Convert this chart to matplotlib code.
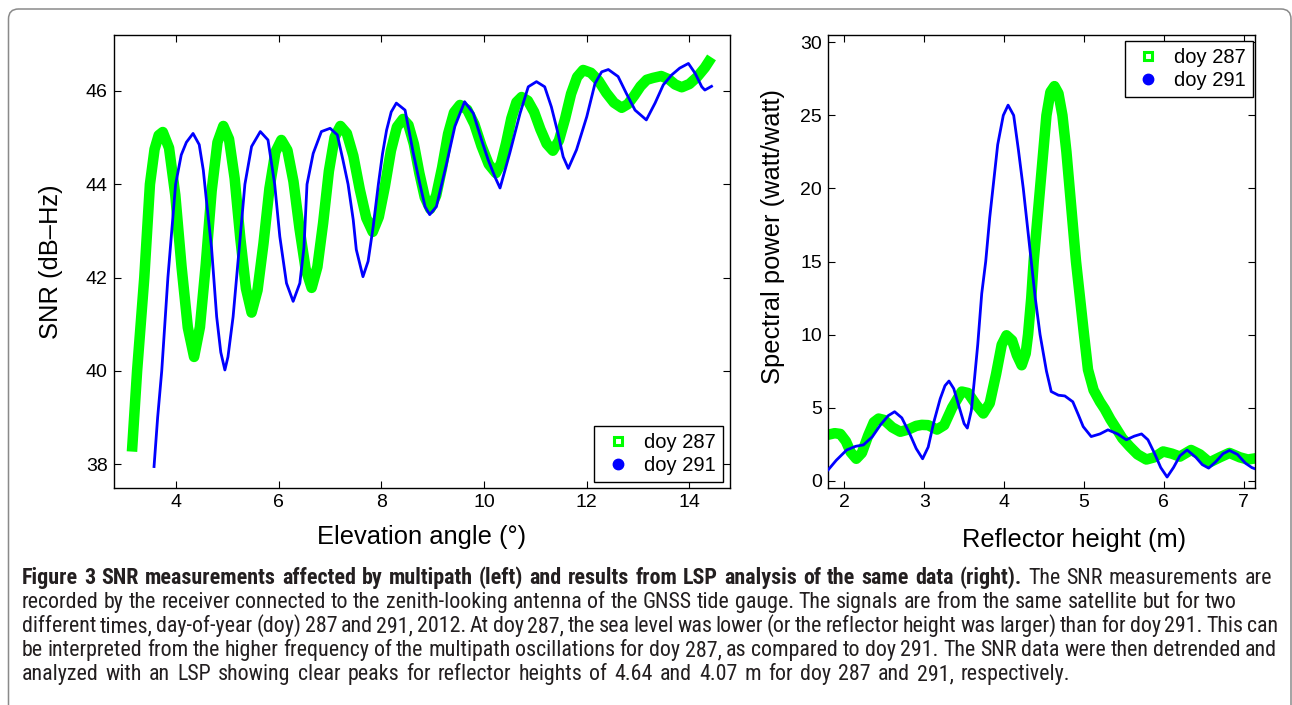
import matplotlib
matplotlib.use('Agg')
import matplotlib.pyplot as plt
from matplotlib.lines import Line2D
from matplotlib.patches import FancyBboxPatch
from matplotlib import font_manager

# ---------------- data ----------------
# Left panel: SNR vs elevation angle
snr287_elev = [3.14, 3.24, 3.38, 3.49, 3.58, 3.66, 3.74,
               3.862, 3.984, 4.106, 4.228, 4.35,
               4.464, 4.578, 4.692, 4.806, 4.92,
               5.03, 5.14, 5.25, 5.36, 5.47,
               5.586, 5.702, 5.818, 5.934, 6.05,
               6.168, 6.286, 6.404, 6.522, 6.64,
               6.752, 6.864, 6.976, 7.088, 7.2,
               7.326, 7.452, 7.578, 7.704, 7.83,
               7.948, 8.066, 8.184, 8.302, 8.42,
               8.526, 8.632, 8.738, 8.844, 8.95,
               9.066, 9.182, 9.298, 9.414, 9.53,
               9.67, 9.81, 9.95, 10.09, 10.23,
               10.33, 10.43, 10.53, 10.63, 10.73,
               10.852, 10.974, 11.096, 11.218, 11.34,
               11.458, 11.576, 11.694, 11.812, 11.93,
               12.08, 12.23, 12.38, 12.53, 12.68,
               12.802, 12.924, 13.046, 13.168, 13.29,
               13.45, 13.6, 13.72, 13.85, 14.0, 14.15, 14.3, 14.43]
snr287_val = [38.27, 40.0, 42.0, 44.0, 44.75, 45.05, 45.12,
              44.78, 43.77, 42.23, 40.93, 40.3,
              40.94, 42.28, 43.86, 44.90, 45.25,
              44.97, 44.13, 42.85, 41.77, 41.25,
              41.73, 42.73, 43.91, 44.69, 44.95,
              44.73, 44.06, 43.05, 42.19, 41.78,
              42.23, 43.17, 44.28, 45.01, 45.25,
              45.09, 44.61, 43.89, 43.28, 42.98,
              43.30, 43.95, 44.72, 45.23, 45.4,
              45.27, 44.86, 44.24, 43.72, 43.47,
              43.76, 44.36, 45.08, 45.54, 45.7,
              45.60, 45.29, 44.82, 44.43, 44.24,
              44.45, 44.89, 45.41, 45.76, 45.87,
              45.79, 45.55, 45.18, 44.87, 44.72,
              44.94, 45.40, 45.94, 46.30, 46.45,
              46.39, 46.22, 45.96, 45.75, 45.64,
              45.72, 45.90, 46.10, 46.24, 46.28,
              46.32, 46.25, 46.14, 46.08, 46.15, 46.3, 46.5, 46.72]

snr291_elev = [3.57, 3.64, 3.72, 3.84, 3.99, 4.1, 4.2, 4.33,
               4.45, 4.53, 4.59, 4.69, 4.79, 4.87, 4.95,
               5.01, 5.11, 5.23, 5.34, 5.47, 5.64,
               5.79, 5.92, 6.02, 6.15, 6.28,
               6.41, 6.49, 6.55, 6.67, 6.83, 7.0,
               7.14, 7.25, 7.35, 7.45, 7.51, 7.64,
               7.74, 7.84, 7.94, 8.02, 8.1, 8.19, 8.29,
               8.46, 8.62, 8.75, 8.85, 8.94,
               9.07, 9.27, 9.43, 9.62,
               9.79, 9.95, 10.08, 10.21, 10.31,
               10.5, 10.7, 10.86, 11.02,
               11.18, 11.31, 11.44, 11.54, 11.64,
               11.8, 12.0, 12.16, 12.29, 12.42,
               12.61, 12.77, 12.94, 13.16,
               13.33, 13.49, 13.65, 13.81, 13.98,
               14.11, 14.24, 14.3, 14.43]
snr291_val = [37.95, 39.0, 40.0, 42.0, 44.0, 44.63, 44.9, 45.09,
              44.85, 44.3, 43.66, 42.64, 41.16, 40.4, 40.02,
              40.3, 41.16, 42.64, 44.0, 44.81, 45.13,
              44.95, 44.0, 42.88, 41.88, 41.49,
              41.88, 42.64, 44.0, 44.66, 45.13, 45.2,
              45.06, 44.52, 44.0, 43.24, 42.6, 42.02,
              42.35, 43.1, 44.0, 44.65, 45.16, 45.55, 45.74,
              45.59, 44.67, 44.0, 43.52, 43.35,
              43.52, 44.45, 45.24, 45.77,
              45.52, 44.95, 44.52, 44.16, 43.92,
              44.67, 45.52, 46.09, 46.2,
              46.09, 45.66, 45.09, 44.59, 44.34,
              44.74, 45.45, 46.16, 46.41, 46.46,
              46.31, 45.95, 45.59, 45.38,
              45.74, 46.13, 46.34, 46.49, 46.59,
              46.38, 46.09, 46.02, 46.1]

# Right panel: Lomb-Scargle periodogram
lsp287_h = [1.8, 1.88, 1.95, 2.02, 2.08, 2.15, 2.22, 2.3, 2.37, 2.43, 2.5, 2.6,
            2.7, 2.8, 2.9, 2.97, 3.05, 3.16, 3.25, 3.35, 3.47, 3.55, 3.65, 3.74,
            3.82, 3.9, 3.97, 4.03, 4.1, 4.16, 4.22, 4.27, 4.3, 4.34, 4.37, 4.41,
            4.45, 4.49, 4.53, 4.58, 4.63, 4.68, 4.73, 4.78, 4.82, 4.86, 4.9, 4.95,
            5.0, 5.05, 5.12, 5.2, 5.26, 5.33, 5.4, 5.48, 5.57, 5.67, 5.78, 5.88,
            5.99, 6.1, 6.2, 6.34, 6.45, 6.57, 6.7, 6.82, 6.95, 7.05, 7.17]
lsp287_p = [3.15, 3.25, 3.2, 2.7, 1.95, 1.5, 1.9, 3.1, 4.0, 4.25, 4.15, 3.65,
            3.35, 3.5, 3.75, 3.82, 3.8, 3.5, 3.8, 5.0, 6.1, 6.0, 5.2, 4.6,
            5.3, 7.3, 9.3, 9.95, 9.6, 8.6, 7.9, 8.7, 10.0, 12.5, 15.0, 17.5,
            20.0, 22.5, 25.0, 26.6, 27.0, 26.5, 25.0, 22.5, 20.0, 17.5, 15.0, 12.5,
            10.0, 7.6, 6.2, 5.4, 4.9, 4.2, 3.6, 2.9, 2.35, 1.8, 1.45, 1.6,
            2.0, 1.85, 1.65, 2.1, 1.8, 1.25, 1.6, 1.9, 1.6, 1.45, 1.55]

lsp291_h = [1.8, 1.9, 2.03, 2.14, 2.24, 2.35, 2.45, 2.55, 2.63, 2.72, 2.82, 2.9,
            2.98, 3.05, 3.12, 3.2, 3.26, 3.31, 3.37, 3.44, 3.5, 3.54, 3.59, 3.63,
            3.67, 3.72, 3.77, 3.82, 3.86, 3.92, 3.99, 4.05, 4.12, 4.18, 4.24, 4.34,
            4.39, 4.45, 4.53, 4.59, 4.68, 4.76, 4.86, 4.93, 4.99, 5.09, 5.2, 5.3,
            5.42, 5.53, 5.63, 5.72, 5.8, 5.88, 5.96, 6.04, 6.12, 6.2, 6.29, 6.4,
            6.48, 6.56, 6.65, 6.74, 6.82, 6.92, 7.02, 7.1, 7.17]
lsp291_p = [0.75, 1.4, 2.1, 2.35, 2.45, 3.0, 3.8, 4.45, 4.72, 4.3, 3.2, 2.2,
            1.5, 2.3, 4.0, 5.6, 6.5, 6.82, 6.3, 5.0, 3.9, 3.6, 4.8, 7.0,
            9.3, 12.8, 15.0, 18.0, 20.0, 23.0, 25.0, 25.7, 25.0, 22.6, 20.0, 15.0,
            12.5, 10.0, 7.5, 6.1, 5.85, 5.8, 5.4, 4.5, 3.7, 3.02, 3.2, 3.48,
            3.2, 2.8, 3.05, 3.2, 2.8, 1.9, 0.9, 0.25, 0.9, 1.7, 2.1, 1.6,
            1.1, 0.86, 1.3, 1.85, 2.07, 1.8, 1.2, 0.9, 0.75]

series_labels = ["doy 287", "doy 291"]
left_xticks = [4, 6, 8, 10, 12, 14]
left_yticks = [38, 40, 42, 44, 46]
right_xticks = [2, 3, 4, 5, 6, 7]
right_yticks = [0, 5, 10, 15, 20, 25, 30]

caption_bold = ("Figure 3 SNR measurements affected by multipath (left) and results "
                "from LSP analysis of the same data (right).")
caption_lines = [
    "The SNR measurements are",
    "recorded by the receiver connected to the zenith-looking antenna of the GNSS tide gauge. "
    "The signals are from the same satellite but for two",
    "different times, day-of-year (doy) 287 and 291, 2012. At doy 287, the sea level was lower "
    "(or the reflector height was larger) than for doy 291. This can",
    "be interpreted from the higher frequency of the multipath oscillations for doy 287, as "
    "compared to doy 291. The SNR data were then detrended and",
    "analyzed with an LSP showing clear peaks for reflector heights of 4.64 and 4.07 m for "
    "doy 287 and 291, respectively.",
]

# ---------------- style ----------------
GREEN = '#00ff00'
BLUE = '#0000ff'
plt.rcParams['font.family'] = ['Liberation Sans', 'DejaVu Sans']

W, H = 1292, 705
fig = plt.figure(figsize=(W / 100, H / 100), dpi=100)

# rounded grey frame around the figure (bottom edge falls outside)
frame = FancyBboxPatch((0.085, -0.4), 12.825, 7.05 - 0.09 + 0.4,
                       boxstyle='round,pad=0,rounding_size=0.1',
                       transform=fig.dpi_scale_trans, facecolor='none',
                       edgecolor='#8a8a8a', linewidth=1.1, zorder=0)
fig.patches.append(frame)

def px_axes(x0, y0, x1, y1):
    return fig.add_axes([x0 / W, 1 - y1 / H, (x1 - x0) / W, (y1 - y0) / H])

def style(ax):
    for s in ax.spines.values():
        s.set_linewidth(1.0)
        s.set_color('black')
    ax.tick_params(direction='in', top=True, right=True, length=5, width=0.8,
                   labelsize=14, pad=4.5, colors='black')

# Left panel
axL = px_axes(114, 35, 730, 488)
axL.plot(snr287_elev, snr287_val, color=GREEN, lw=7.6, solid_capstyle='butt',
         solid_joinstyle='round', zorder=2)
axL.plot(snr291_elev, snr291_val, color=BLUE, lw=2.0, solid_joinstyle='round', zorder=3)
axL.set_xlim(2.79, 14.79)
axL.set_ylim(37.49, 47.2)
axL.set_xticks(left_xticks)
axL.set_yticks(left_yticks)
style(axL)
axL.set_xlabel('Elevation angle (°)', fontsize=18.4)
axL.xaxis.label.set_va('center')
axL.xaxis.set_label_coords(0.5, (488 - 537) / 453)
axL.set_ylabel('SNR (dB\u2013Hz)', fontsize=18.4)
axL.yaxis.label.set_va('center')
axL.yaxis.set_label_coords((51 - 114) / 616, 0.5)

# Right panel
axR = px_axes(828.3, 35, 1255, 488)
axR.plot(lsp287_h, lsp287_p, color=GREEN, lw=7.6, solid_joinstyle='round', zorder=2)
axR.plot(lsp291_h, lsp291_p, color=BLUE, lw=2.0, solid_joinstyle='round', zorder=3)
axR.set_xlim(1.8, 7.14)
axR.set_ylim(-0.5, 30.5)
axR.set_xticks(right_xticks)
axR.set_yticks(right_yticks)
style(axR)
axR.set_xlabel('Reflector height (m)', fontsize=18.4)
axR.xaxis.label.set_va('center')
axR.xaxis.set_label_coords((1074 - 828.3) / 426.7, (488 - 540) / 453)
axR.set_ylabel('Spectral power (watt/watt)', fontsize=18.4)
axR.yaxis.label.set_va('center')
axR.yaxis.set_label_coords((773 - 828.3) / 426.7, (488 - 237) / 453)

# legends
def legend_handles():
    return [Line2D([], [], ls='none', marker='s', ms=6, mfc='white', mec=GREEN, mew=2.2),
            Line2D([], [], ls='none', marker='o', ms=7.5, mfc=BLUE, mec=BLUE)]

for ax, loc, anchor in [(axL, 'lower right', (0.988, 0.014)),
                        (axR, 'upper right', (0.995, 0.986))]:
    lg = ax.legend(legend_handles(), series_labels, loc=loc, bbox_to_anchor=anchor,
                   borderaxespad=0, fontsize=14.5, handlelength=1.6, handletextpad=0.5,
                   labelspacing=0.2, borderpad=0.35, fancybox=False, framealpha=1,
                   edgecolor='black')
    lg.get_frame().set_linewidth(1.0)

# ---------------- caption (word layout so each line ends where the reference does) ----------------
names = {f.name for f in font_manager.fontManager.ttflist}
cap_family = None
for cand in ['Roboto Condensed', 'Liberation Sans Narrow', 'Open Sans Condensed', 'Lato', 'Roboto']:
    if cand in names:
        cap_family = cand
        break
if cap_family is None:
    cap_family = 'DejaVu Sans'

renderer = fig.canvas.get_renderer()
CAP_COLOR = '#231f20'
x_left = 22
line_ends = [1272, 1237, 1278, 1277, 1070]
baselines = [584, 608, 632, 656, 680]

tokens = [[(w, True) for w in caption_bold.split()] + [(w, False) for w in caption_lines[0].split()]]
for line in caption_lines[1:]:
    tokens.append([(w, False) for w in line.split()])

def measure(s, bold, size):
    t = fig.text(0, 0, s, fontsize=size, family=cap_family,
                 weight='bold' if bold else 'normal')
    w = t.get_window_extent(renderer).width
    t.remove()
    return w

# natural width at 12 pt to choose the font size
nat_total = 0.0
for toks in tokens:
    nat_total += measure(' '.join(w for w, b in toks if b), True, 12) if any(b for _, b in toks) else 0
    nat_total += measure(' '.join(w for w, b in toks if not b), False, 12)
    if any(b for _, b in toks):
        nat_total += measure(' ', False, 12) if False else 12 * 100 / 72 * 0.23
target_total = sum(e - x_left for e in line_ends)
cap_size = 12 * target_total / nat_total

for toks, xend, yb in zip(tokens, line_ends, baselines):
    widths = [measure(w, b, cap_size) for w, b in toks]
    gap = (xend - x_left - sum(widths)) / (len(toks) - 1)
    x = x_left
    for (w, b), wd in zip(toks, widths):
        fig.text(x / W, 1 - yb / H, w, fontsize=cap_size, family=cap_family,
                 weight='bold' if b else 'normal', va='baseline', color=CAP_COLOR)
        x += wd + gap

fig.savefig('out.png', dpi=100)
